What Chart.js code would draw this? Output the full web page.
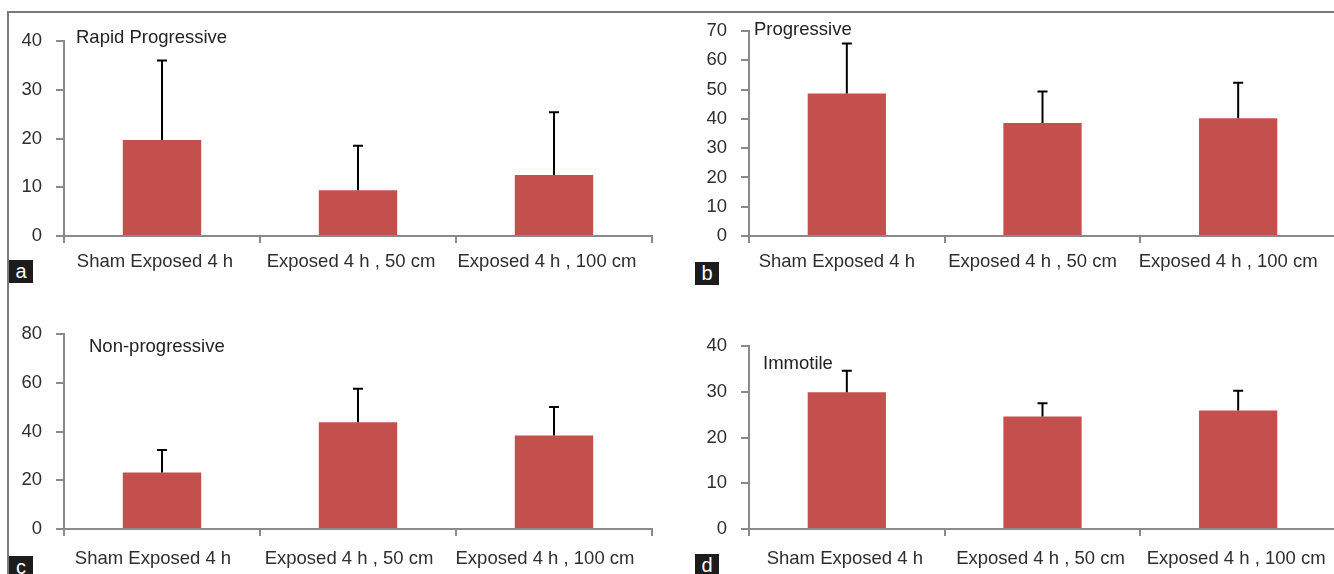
<!DOCTYPE html>
<html>
<head>
<meta charset="utf-8">
<script src="https://cdn.jsdelivr.net/npm/chart.js@4.4.0/dist/chart.umd.min.js"></script>
<style>
  html, body { margin: 0; padding: 0; background: #fff; }
  body { width: 1334px; height: 574px; position: relative; overflow: hidden; }
  .frame-top { position: absolute; left: 7px; top: 11px; width: 1327px; height: 2px; background: #7a7a7a; }
  .frame-left { position: absolute; left: 7px; top: 11px; width: 2px; height: 563px; background: #7a7a7a; }
  .panel { position: absolute; }
  .tag { position: absolute; width: 24px; height: 23px; background: #1c1c1c; color: #fff;
         font: 20px 'Liberation Sans', Arial, sans-serif; text-align: center; line-height: 22px; }
</style>
</head>
<body>
<div class="frame-top"></div>
<div class="frame-left"></div>

<div class="panel" style="left:0px;top:14px;"><canvas id="chartA" width="667" height="282"></canvas></div>
<div class="panel" style="left:667px;top:14px;"><canvas id="chartB" width="670" height="282"></canvas></div>
<div class="panel" style="left:0px;top:300px;"><canvas id="chartC" width="667" height="274"></canvas></div>
<div class="panel" style="left:667px;top:300px;"><canvas id="chartD" width="670" height="274"></canvas></div>

<div class="tag" style="left:9px;top:260px;">a</div>
<div class="tag" style="left:695px;top:262px;">b</div>
<div class="tag" style="left:9px;top:556px;">c</div>
<div class="tag" style="left:695px;top:554px;">d</div>

<script>
const categories = ['Sham Exposed 4 h', 'Exposed 4 h , 50 cm', 'Exposed 4 h , 100 cm'];

// means and SD (upper error bar) per panel
const rapidMeans = [19.7, 9.4, 12.5];
const rapidSD = [16.3, 9.1, 12.9];
const progMeans = [48.7, 38.6, 40.2];
const progSD = [17.0, 10.7, 12.1];
const nonProgMeans = [23.2, 43.8, 38.4];
const nonProgSD = [9.2, 13.7, 11.7];
const immotileMeans = [29.9, 24.6, 25.9];
const immotileSD = [4.7, 2.9, 4.3];

const axisColor = '#8a8a8a';
const textColor = '#2e2e2e';
const barColor = '#C4504E';
const fontFamily = "'Liberation Sans', Arial, sans-serif";

Chart.defaults.font.family = fontFamily;
Chart.defaults.color = textColor;

const errorBars = {
  id: 'errorBars',
  afterDatasetsDraw(chart) {
    const ctx = chart.ctx;
    const y = chart.scales.y;
    const ds = chart.data.datasets[0];
    chart.getDatasetMeta(0).data.forEach((bar, i) => {
      const top = y.getPixelForValue(ds.data[i] + ds.errors[i]);
      ctx.save();
      ctx.strokeStyle = '#000';
      ctx.lineWidth = 2;
      ctx.beginPath();
      ctx.moveTo(bar.x, bar.y);
      ctx.lineTo(bar.x, top);
      ctx.moveTo(bar.x - 5, top);
      ctx.lineTo(bar.x + 5, top);
      ctx.stroke();
      ctx.restore();
    });
  }
};

const panelTitle = {
  id: 'panelTitle',
  afterDraw(chart, args, opts) {
    const ctx = chart.ctx;
    ctx.save();
    ctx.font = '18.5px ' + fontFamily;
    ctx.fillStyle = '#222';
    ctx.textBaseline = 'alphabetic';
    ctx.fillText(opts.text, opts.x, opts.y);
    ctx.restore();
  }
};

function makePanel(id, title, means, sds, yMax, yStep, lay) {
  new Chart(document.getElementById(id), {
    type: 'bar',
    data: {
      labels: categories,
      datasets: [{
        data: means,
        errors: sds,
        backgroundColor: barColor,
        borderWidth: 0,
        barPercentage: 0.4,
        categoryPercentage: 1.0
      }]
    },
    options: {
      responsive: false,
      animation: false,
      layout: { padding: { top: lay.top, right: lay.right, left: 0, bottom: 0 } },
      plugins: {
        legend: { display: false },
        tooltip: { enabled: false },
        panelTitle: { text: title, x: lay.tx, y: lay.ty }
      },
      scales: {
        x: {
          offset: true,
          grid: { drawOnChartArea: false, color: axisColor, lineWidth: 2, tickLength: 7, offset: true },
          border: { color: axisColor, width: 2 },
          ticks: { color: textColor, font: { size: 18.5 }, padding: lay.xPad, labelOffset: lay.shift,
                   maxRotation: 0, autoSkip: false },
          afterFit(scale) {
            scale.height = lay.xh;
            scale.paddingLeft = 0;
            scale.paddingRight = 0;
          }
        },
        y: {
          min: 0,
          max: yMax,
          grid: { drawOnChartArea: false, color: axisColor, lineWidth: 2, tickLength: 8 },
          border: { color: axisColor, width: 2 },
          ticks: { stepSize: yStep, color: textColor, font: { size: 18.5 }, padding: 14 },
          afterFit(scale) {
            scale.width = lay.yw;
            scale.paddingTop = 0;
            scale.paddingBottom = 0;
          }
        }
      }
    },
    plugins: [errorBars, panelTitle]
  });
}

makePanel('chartA', 'Rapid Progressive', rapidMeans, rapidSD, 40, 10,
  { top: 27, right: 15, yw: 64, xh: 60, xPad: 8, shift: -7, tx: 76, ty: 29 });
makePanel('chartB', 'Progressive', progMeans, progSD, 70, 10,
  { top: 17, right: 1, yw: 82, xh: 60, xPad: 8, shift: -10, tx: 87, ty: 21 });
makePanel('chartC', 'Non-progressive', nonProgMeans, nonProgSD, 80, 20,
  { top: 34, right: 15, yw: 64, xh: 45, xPad: 12, shift: -9, tx: 89, ty: 52 });
makePanel('chartD', 'Immotile', immotileMeans, immotileSD, 40, 10,
  { top: 46, right: 1, yw: 82, xh: 45, xPad: 12, shift: -2, tx: 96, ty: 69 });
</script>
</body>
</html>
